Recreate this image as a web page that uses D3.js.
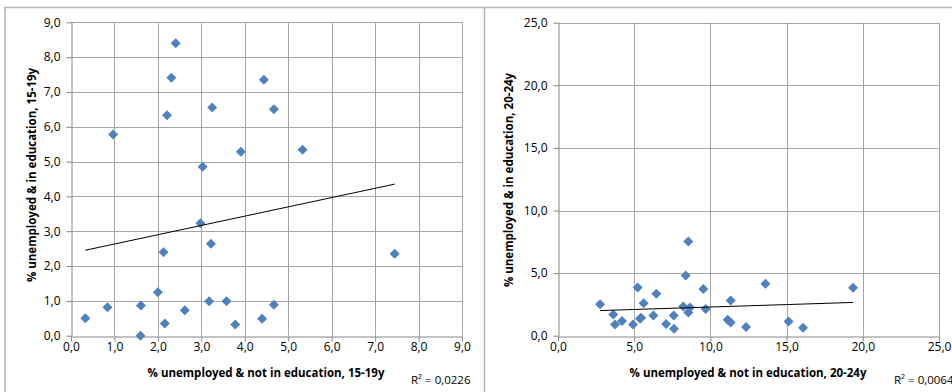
<!DOCTYPE html>
<html>
<head>
<meta charset="utf-8">
<script src="https://cdn.jsdelivr.net/npm/d3@7"></script>
<style>
  html, body { margin: 0; padding: 0; background: #fff; }
  svg { display: block; }
  text { font-family: "Open Sans", "Liberation Sans", sans-serif; fill: #000; }
</style>
</head>
<body>
<svg id="chart" width="952" height="392"></svg>
<script>
// 15-19 year olds: % unemployed & not in education (x) vs % unemployed & in education (y)
const teenNotInEdu = [2.41, 2.31, 2.21, 3.25, 4.44, 4.67, 0.97, 3.03, 3.91, 5.33, 2.98, 3.22, 2.13,
                      7.45, 2.00, 3.18, 3.58, 4.67, 1.61, 0.84, 2.62, 0.33, 4.40, 2.16, 3.78, 1.60];
const teenInEdu    = [8.40, 7.41, 6.33, 6.55, 7.35, 6.50, 5.78, 4.85, 5.28, 5.34, 3.23, 2.64, 2.40,
                      2.35, 1.25, 0.99, 0.99, 0.89, 0.87, 0.82, 0.73, 0.50, 0.49, 0.35, 0.32, 0.00];

// 20-24 year olds
const youngNotInEdu = [2.76, 3.63, 3.74, 4.20, 4.92, 5.23, 5.38, 5.45, 5.62, 6.26, 6.45, 7.09, 7.59, 7.61,
                       8.22, 8.38, 8.55, 8.55, 8.66, 9.54, 9.69, 11.13, 11.33, 11.33, 12.34, 13.61, 15.13,
                       16.08, 19.36];
const youngInEdu    = [2.52, 1.70, 0.90, 1.17, 0.90, 3.85, 1.36, 1.44, 2.60, 1.62, 3.35, 0.93, 1.62, 0.56,
                       2.34, 4.81, 7.52, 1.86, 2.26, 3.72, 2.13, 1.28, 2.82, 1.06, 0.69, 4.15, 1.14,
                       0.64, 3.83];

// Axis ticks
const teenTicks  = [0, 1, 2, 3, 4, 5, 6, 7, 8, 9];
const youngXTicks = [0, 5, 10, 15, 20, 25];
const youngYTicks = [0, 5, 10, 15, 20, 25];

// Titles and fit statistics
const teenXTitle  = "% unemployed & not in education, 15-19y";
const teenYTitle  = "% unemployed & in education, 15-19y";
const youngXTitle = "% unemployed & not in education, 20-24y";
const youngYTitle = "% unemployed & in education, 20-24y";
const teenR2  = "R² = 0,0226";
const youngR2 = "R² = 0,0064";

const svg = d3.select("#chart");
const fmt = v => d3.format(".1f")(v).replace(".", ",");

const GRID = "#a6a6a6";
const AXIS = "#868686";
const FRAME = "#b4b4b4";
const MARK = "#4f81bd";

function linearFit(xs, ys) {
  const mx = d3.mean(xs), my = d3.mean(ys);
  let sxy = 0, sxx = 0;
  xs.forEach((x, i) => { sxy += (x - mx) * (ys[i] - my); sxx += (x - mx) * (x - mx); });
  const b = sxy / sxx;
  return { slope: b, intercept: my - b * mx };
}

function drawPanel(cfg) {
  const g = svg.append("g");

  // chart frame
  g.append("path")
    .attr("d", cfg.framePath)
    .attr("fill", "none")
    .attr("stroke", FRAME)
    .attr("stroke-width", 1.5);

  const x = d3.scaleLinear().domain(cfg.xDomain).range([cfg.left, cfg.right]);
  const y = d3.scaleLinear().domain(cfg.yDomain).range([cfg.bottom, cfg.top]);

  // gridlines
  g.append("g").selectAll("line.v").data(cfg.xTicks.slice(1)).join("line")
    .attr("x1", d => Math.round(x(d)) + 0.5).attr("x2", d => Math.round(x(d)) + 0.5)
    .attr("y1", cfg.top).attr("y2", cfg.bottom)
    .attr("stroke", GRID).attr("stroke-width", 1);
  g.append("g").selectAll("line.h").data(cfg.yTicks.slice(1)).join("line")
    .attr("y1", d => Math.round(y(d)) + 0.5).attr("y2", d => Math.round(y(d)) + 0.5)
    .attr("x1", cfg.left).attr("x2", cfg.right)
    .attr("stroke", GRID).attr("stroke-width", 1);

  // axes
  const xAxis = g.append("g")
    .attr("transform", `translate(0,${Math.round(cfg.bottom) + 0.5})`)
    .call(d3.axisBottom(x).tickValues(cfg.xTicks).tickFormat(fmt)
      .tickSize(5).tickSizeOuter(0).tickPadding(1));
  const yAxis = g.append("g")
    .attr("transform", `translate(${Math.round(cfg.left) + 0.5},0)`)
    .call(d3.axisLeft(y).tickValues(cfg.yTicks).tickFormat(fmt)
      .tickSize(5).tickSizeOuter(0).tickPadding(6));
  [xAxis, yAxis].forEach(a => {
    a.select(".domain").attr("stroke", AXIS);
    a.selectAll(".tick line").attr("stroke", AXIS);
    a.selectAll(".tick text").attr("font-size", 12).attr("fill", "#000")
      .style("font-family", '"Open Sans", sans-serif');
  });

  // points
  const pts = cfg.xs.map((v, i) => [v, cfg.ys[i]]);
  g.append("g").selectAll("path").data(pts).join("path")
    .attr("d", d3.symbol(d3.symbolSquare, 50))
    .attr("transform", d => `translate(${x(d[0])},${y(d[1])}) rotate(45)`)
    .attr("fill", MARK);

  // linear trend line across the observed x range
  const fit = linearFit(cfg.xs, cfg.ys);
  const [x0, x1] = d3.extent(cfg.xs);
  g.append("line")
    .attr("x1", x(x0)).attr("y1", y(fit.intercept + fit.slope * x0))
    .attr("x2", x(x1)).attr("y2", y(fit.intercept + fit.slope * x1))
    .attr("stroke", "#000").attr("stroke-width", 1);

  // axis titles
  g.append("text")
    .attr("x", cfg.xTitlePos[0]).attr("y", cfg.xTitlePos[1])
    .attr("text-anchor", "middle").attr("font-weight", "bold").attr("font-size", 11.5)
    .text(cfg.xTitle);
  g.append("text")
    .attr("transform", `translate(${cfg.yTitlePos[0]},${cfg.yTitlePos[1]}) rotate(-90)`)
    .attr("text-anchor", "middle").attr("font-weight", "bold").attr("font-size", 11.5)
    .text(cfg.yTitle);

  // R² label
  g.append("text")
    .attr("x", cfg.r2Pos[0]).attr("y", cfg.r2Pos[1])
    .attr("font-size", 11.5)
    .text(cfg.r2);
}

drawPanel({
  framePath: "M5,393 V7.5 H484",
  xDomain: [0, 9], yDomain: [0, 9],
  left: 71, right: 462, top: 22.3, bottom: 335.7,
  xTicks: teenTicks, yTicks: teenTicks,
  xs: teenNotInEdu, ys: teenInEdu,
  xTitle: teenXTitle, xTitlePos: [266, 377],
  yTitle: teenYTitle, yTitlePos: [36, 175],
  r2: teenR2, r2Pos: [411, 384]
});

drawPanel({
  framePath: "M484.5,393 V7.5 H953",
  xDomain: [0, 25], yDomain: [0, 25],
  left: 558, right: 939, top: 22.7, bottom: 335.7,
  xTicks: youngXTicks, yTicks: youngYTicks,
  xs: youngNotInEdu, ys: youngInEdu,
  xTitle: youngXTitle, xTitlePos: [748, 377],
  yTitle: youngYTitle, yTitlePos: [513, 180],
  r2: youngR2, r2Pos: [894, 384]
});
</script>
</body>
</html>
